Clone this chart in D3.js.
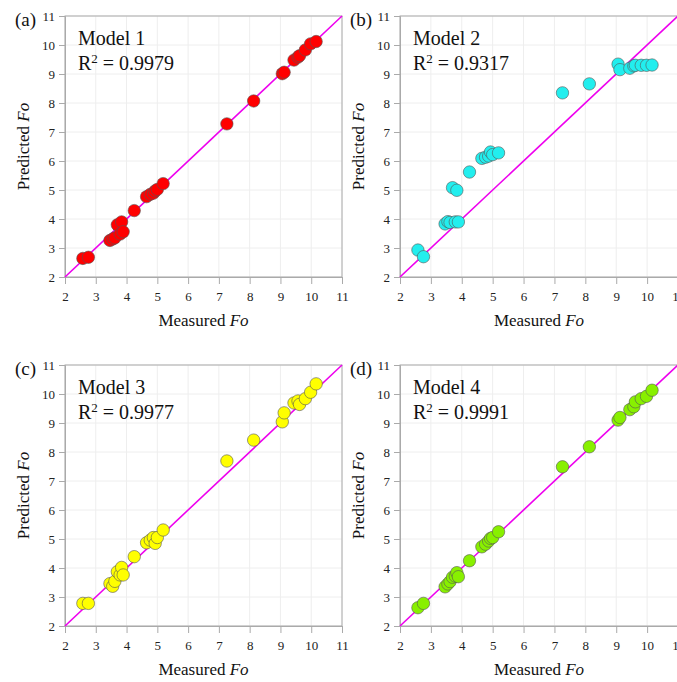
<!DOCTYPE html>
<html>
<head>
<meta charset="utf-8">
<script src="https://cdn.jsdelivr.net/npm/d3@7"></script>
<style>
  html, body { margin: 0; padding: 0; background: #fff; }
  svg { display: block; font-family: "Liberation Serif", "Times New Roman", serif; }
</style>
</head>
<body>
<svg id="chart" width="677" height="682"></svg>
<script>
// measured values, same for all four models
const measured = [2.58, 2.76, 3.46, 3.55, 3.62, 3.70, 3.79, 3.84, 3.89, 4.25, 4.65, 4.77, 4.87, 4.93, 5.00, 5.19,
  7.26, 8.13, 9.06, 9.12, 9.44, 9.57, 9.62, 9.81, 9.98, 10.16]

const predModel1 = [2.64, 2.68, 3.26, 3.31, 3.35, 3.80, 3.48, 3.90, 3.56, 4.29, 4.77, 4.85, 4.89, 4.97, 5.02, 5.22,
  7.28, 8.07, 9.01, 9.06, 9.48, 9.58, 9.63, 9.83, 10.04, 10.12]
const predModel2 = [2.93, 2.70, 3.83, 3.91, 3.88, 5.08, 3.90, 4.99, 3.90, 5.62, 6.09, 6.13, 6.17, 6.31, 6.22, 6.28,
  8.35, 8.66, 9.34, 9.15, 9.20, 9.28, 9.30, 9.30, 9.30, 9.31]
const predModel3 = [2.78, 2.78, 3.46, 3.37, 3.54, 3.87, 3.76, 4.02, 3.76, 4.39, 4.87, 4.96, 5.05, 4.85, 5.05, 5.31,
  7.69, 8.41, 9.04, 9.35, 9.69, 9.76, 9.64, 9.84, 10.06, 10.35]
const predModel4 = [2.63, 2.78, 3.35, 3.45, 3.53, 3.68, 3.72, 3.84, 3.70, 4.25, 4.73, 4.82, 4.93, 5.02, 5.05, 5.25,
  7.49, 8.18, 9.10, 9.19, 9.46, 9.56, 9.73, 9.84, 9.92, 10.13]

const panelLabels = ["(a)", "(b)", "(c)", "(d)"]
const modelNames = ["Model 1", "Model 2", "Model 3", "Model 4"]
const r2Values = ["0.9979", "0.9317", "0.9977", "0.9991"]
const fillColors = ["#ff0000", "#22eeee", "#ffff00", "#88f000"]
const predictions = [predModel1, predModel2, predModel3, predModel4]
const tickValues = [2, 3, 4, 5, 6, 7, 8, 9, 10, 11]

// panel boxes: left/right/top/bottom in px
const panels = [
  {x0: 65, x1: 342, y0: 16, y1: 277},
  {x0: 400, x1: 678, y0: 16, y1: 277},
  {x0: 65, x1: 342, y0: 365, y1: 626},
  {x0: 400, x1: 678, y0: 365, y1: 626}
]

const serif = "Liberation Serif, Times New Roman, serif"
const svg = d3.select("#chart")

panels.forEach((p, i) => {
  const x = d3.scaleLinear().domain([2, 11]).range([p.x0, p.x1])
  const y = d3.scaleLinear().domain([2, 11]).range([p.y1, p.y0])
  const g = svg.append("g")

  // grid
  g.append("g").selectAll("line").data(tickValues).join("line")
    .attr("x1", d => x(d)).attr("x2", d => x(d))
    .attr("y1", p.y0).attr("y2", p.y1)
    .attr("stroke", "#eeeeee").attr("stroke-width", 1)
  g.append("g").selectAll("line").data(tickValues).join("line")
    .attr("x1", p.x0).attr("x2", p.x1)
    .attr("y1", d => y(d)).attr("y2", d => y(d))
    .attr("stroke", "#eeeeee").attr("stroke-width", 1)

  // frame
  g.append("rect")
    .attr("x", p.x0).attr("y", p.y0)
    .attr("width", p.x1 - p.x0).attr("height", p.y1 - p.y0)
    .attr("fill", "none").attr("stroke", "#aaaaaa").attr("stroke-width", 1)

  // axes
  const xAxis = g.append("g").attr("transform", `translate(0,${p.y1})`)
    .call(d3.axisBottom(x).tickValues(tickValues).tickSize(7).tickPadding(8).tickFormat(d3.format("d")))
  const yAxis = g.append("g").attr("transform", `translate(${p.x0},0)`)
    .call(d3.axisLeft(y).tickValues(tickValues).tickSize(6).tickPadding(4).tickFormat(d3.format("d")))
  ;[xAxis, yAxis].forEach(a => {
    a.attr("font-family", serif).attr("font-size", 13)
    a.select(".domain").attr("stroke", "#aaaaaa")
    a.selectAll(".tick line").attr("stroke", "#aaaaaa")
    a.selectAll(".tick text").attr("fill", "#222")
  })

  // 1:1 line
  g.append("line")
    .attr("x1", x(2)).attr("y1", y(2))
    .attr("x2", x(11)).attr("y2", y(11))
    .attr("stroke", "#ee00ee").attr("stroke-width", 1.6)

  // points
  const pts = measured.map((m, k) => ({m: m, p: predictions[i][k]}))
  g.append("g").selectAll("circle").data(pts).join("circle")
    .attr("cx", d => x(d.m)).attr("cy", d => y(d.p))
    .attr("r", 6.2)
    .attr("fill", fillColors[i])
    .attr("stroke", "#555").attr("stroke-width", 0.6)

  // panel label
  g.append("text").attr("x", p.x0 - 50).attr("y", p.y0 + 10)
    .style("font-size", "19px").attr("fill", "#111").text(panelLabels[i])

  // model name and R2
  g.append("text").attr("x", p.x0 + 13).attr("y", p.y0 + 29)
    .style("font-size", "20px").attr("fill", "#111").text(modelNames[i])
  const r2 = g.append("text").attr("x", p.x0 + 13).attr("y", p.y0 + 54)
    .style("font-size", "20px").attr("fill", "#111")
  r2.append("tspan").text("R")
  r2.append("tspan").attr("dy", -7).style("font-size", "13px").text("2")
  r2.append("tspan").attr("dy", 7).text(" = " + r2Values[i])

  // axis titles
  const xt = g.append("text")
    .attr("x", (x(2) + x(11)) / 2).attr("y", p.y1 + 49)
    .attr("text-anchor", "middle").style("font-size", "17px").attr("fill", "#111")
  xt.append("tspan").text("Measured ")
  xt.append("tspan").style("font-style", "italic").text("Fo")

  const yt = g.append("text")
    .attr("transform", `translate(${p.x0 - 36},${(p.y0 + p.y1) / 2}) rotate(-90)`)
    .attr("text-anchor", "middle").style("font-size", "17px").attr("fill", "#111")
  yt.append("tspan").text("Predicted ")
  yt.append("tspan").style("font-style", "italic").text("Fo")
})
</script>
</body>
</html>
